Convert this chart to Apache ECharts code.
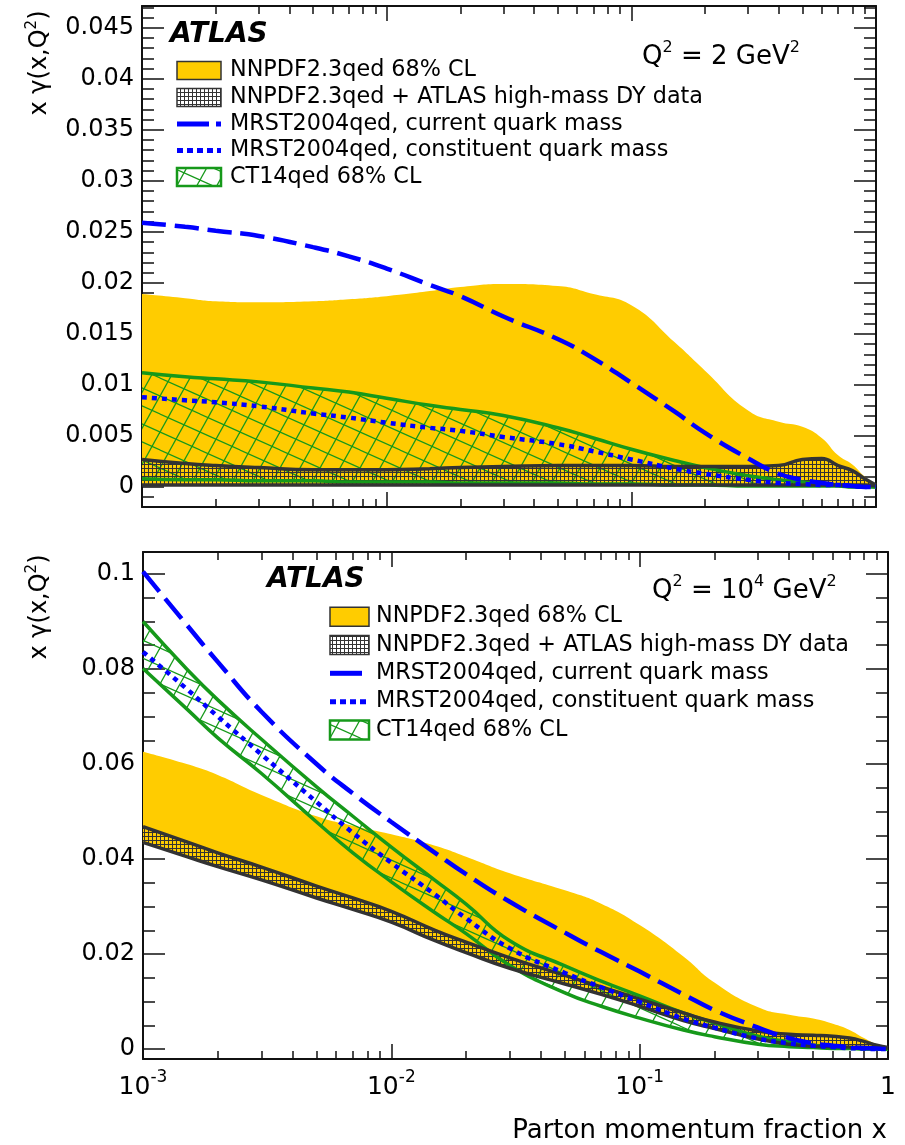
<!DOCTYPE html>
<html>
<head>
    <meta charset="utf-8">
    <title>x gamma(x,Q2)</title>
    <script src="https://cdn.jsdelivr.net/npm/echarts@6/dist/echarts.min.js"></script>
    <style>
        html, body { margin: 0; padding: 0; background: #fff; }
        #chart { width: 905px; height: 1145px; }
    </style>
</head>
<body>
<div id="chart"></div>
<script>
    var xGrid = [0.001, 0.0015, 0.002, 0.003, 0.005, 0.007, 0.01, 0.015, 0.02, 0.03, 0.05, 0.07,
        0.1, 0.15, 0.2, 0.3, 0.4, 0.5, 0.6, 0.7, 0.8, 0.9, 1.0];

    // ---- Q^2 = 2 GeV^2 (top panel)
    var nnpdfUp2 = [0.0189, 0.0185, 0.0182, 0.0181, 0.0182, 0.0184, 0.0187, 0.0192, 0.0196, 0.0199, 0.0197, 0.0189,
        0.0178, 0.0142, 0.0114, 0.0075, 0.0064, 0.0059, 0.0048, 0.0031, 0.0022, 0.0010, 0.0002];
    var nnpdfLow2 = [0.0001, 0.0001, 0.0001, 0.0001, 0.0001, 0.0001, 0.0001, 0.0001, 0.0001, 0.0001, 0.0001, 0.0001,
        0.0001, 0.0001, 0.0001, 0.0001, 0.0001, 0.0001, 0.0001, 0.0001, 0.0001, 0.0001, 0.0001];
    var atlasUp2 = [0.0027, 0.0023, 0.0021, 0.0019, 0.0017, 0.0017, 0.0017, 0.0018, 0.0019, 0.0020, 0.0021, 0.0021,
        0.0021, 0.0020, 0.0020, 0.0020, 0.0021, 0.0027, 0.0028, 0.0021, 0.0016, 0.0008, 0.0002];
    var atlasLow2 = [0.0002, 0.0002, 0.0002, 0.0002, 0.0002, 0.0002, 0.0002, 0.0002, 0.0002, 0.0002, 0.0002, 0.0002,
        0.0002, 0.0002, 0.0002, 0.0002, 0.0002, 0.0002, 0.0002, 0.0002, 0.0002, 0.0002, 0.0001];
    var ct14Up2 = [0.0112, 0.0108, 0.0106, 0.0103, 0.0097, 0.0093, 0.0087, 0.0080, 0.0076, 0.0070, 0.0058, 0.0048,
        0.0037, 0.0026, 0.0019, 0.0011, 0.0007, 0.0005, 0.0003, 0.0002, 0.0001, 0.0001, 0.0];
    var ct14Low2 = [0.0008, 0.0007, 0.0007, 0.0006, 0.0006, 0.0005, 0.0005, 0.0005, 0.0004, 0.0004, 0.0004, 0.0003,
        0.0003, 0.0002, 0.0002, 0.0001, 0.0001, 0.0001, 0.0001, 0.0001, 0.0, 0.0, 0.0];
    var mrstCur2 = [0.0259, 0.0255, 0.0251, 0.0246, 0.0235, 0.0226, 0.0214, 0.0198, 0.0187, 0.0167, 0.0145, 0.0126,
        0.0102, 0.0074, 0.0053, 0.0028, 0.0013, 0.0007, 0.0004, 0.0002, 0.0001, 0.0, 0.0];
    var mrstCon2 = [0.0088, 0.0085, 0.0083, 0.0079, 0.0072, 0.0068, 0.0063, 0.0058, 0.0055, 0.0049, 0.0042, 0.0035,
        0.0027, 0.0018, 0.0013, 0.0007, 0.0004, 0.0003, 0.0002, 0.0002, 0.0001, 0.0, 0.0];

    // ---- Q^2 = 10^4 GeV^2 (bottom panel)
    var nnpdfUp4 = [0.0626, 0.0600, 0.0577, 0.0535, 0.0490, 0.0470, 0.0452, 0.0428, 0.0405, 0.0370, 0.0334, 0.0306,
        0.0261, 0.0195, 0.0140, 0.0088, 0.0072, 0.0064, 0.0053, 0.0040, 0.0023, 0.0010, 0.0002];
    var nnpdfLow4 = [0.0435, 0.0405, 0.0384, 0.0356, 0.0318, 0.0294, 0.0267, 0.0228, 0.0203, 0.0170, 0.0137, 0.0115,
        0.0090, 0.0060, 0.0043, 0.0021, 0.0010, 0.0006, 0.0005, 0.0004, 0.0003, 0.0003, 0.0002];
    var atlasUp4 = [0.0468, 0.0436, 0.0413, 0.0383, 0.0343, 0.0318, 0.0290, 0.0250, 0.0225, 0.0192, 0.0155, 0.0131,
        0.0105, 0.0076, 0.0057, 0.0038, 0.0031, 0.0029, 0.0027, 0.0023, 0.0016, 0.0008, 0.0003];
    var atlasLow4 = [0.0435, 0.0405, 0.0384, 0.0356, 0.0318, 0.0294, 0.0267, 0.0228, 0.0203, 0.0170, 0.0137, 0.0115,
        0.0090, 0.0060, 0.0043, 0.0021, 0.0010, 0.0006, 0.0005, 0.0004, 0.0003, 0.0003, 0.0002];
    var ct14Up4 = [0.0900, 0.0800, 0.0735, 0.0652, 0.0552, 0.0490, 0.0425, 0.0355, 0.0305, 0.0228, 0.0175, 0.0143,
        0.0112, 0.0076, 0.0055, 0.0027, 0.0015, 0.0008, 0.0004, 0.0002, 0.0001, 0.0, 0.0];
    var ct14Low4 = [0.0801, 0.0716, 0.0655, 0.0580, 0.0478, 0.0413, 0.0352, 0.0287, 0.0243, 0.0176, 0.0118, 0.0090,
        0.0065, 0.0040, 0.0026, 0.0010, 0.0005, 0.0003, 0.0001, 0.0001, 0.0, 0.0, 0.0];
    var mrstCur4 = [0.1005, 0.0893, 0.0815, 0.0710, 0.0600, 0.0538, 0.0478, 0.0413, 0.0368, 0.0310, 0.0245, 0.0204,
        0.0163, 0.0115, 0.0082, 0.0045, 0.0023, 0.0012, 0.0007, 0.0004, 0.0002, 0.0001, 0.0];
    var mrstCon4 = [0.0836, 0.0758, 0.0700, 0.0620, 0.0520, 0.0455, 0.0392, 0.0325, 0.0275, 0.0212, 0.0160, 0.0130,
        0.0099, 0.0064, 0.0045, 0.0022, 0.0012, 0.0007, 0.0004, 0.0002, 0.0001, 0.0, 0.0];

    // ticks and labels
    var xTickVals = [0.001, 0.01, 0.1, 1];
    var xTickText = ['10{s|-3}', '10{s|-2}', '10{s|-1}', '1'];
    var yMajor2 = [0, 0.005, 0.01, 0.015, 0.02, 0.025, 0.03, 0.035, 0.04, 0.045];
    var yText2 = ['0', '0.005', '0.01', '0.015', '0.02', '0.025', '0.03', '0.035', '0.04', '0.045'];
    var yMajor4 = [0, 0.02, 0.04, 0.06, 0.08, 0.1];
    var yText4 = ['0', '0.02', '0.04', '0.06', '0.08', '0.1'];

    var legendText = ['NNPDF2.3qed 68% CL', 'NNPDF2.3qed + ATLAS high-mass DY data',
        'MRST2004qed, current quark mass', 'MRST2004qed, constituent quark mass', 'CT14qed 68% CL'];

    var F = 'DejaVu Sans';
    var FRAME = '#111111';
    var YELLOW = '#ffcc00';
    var GREEN = '#16991a';
    var DARK = '#333333';
    var BLUE = '#0000ff';
    var SMOOTH = 0.5;

    // fill patterns (ROOT style hatches)
    function meshPattern(bg) {
        var c = document.createElement('canvas');
        c.width = 4; c.height = 4;
        var g = c.getContext('2d');
        if (bg) { g.fillStyle = bg; g.fillRect(0, 0, 4, 4); }
        g.fillStyle = DARK;
        g.fillRect(0, 0, 4, 1);
        g.fillRect(0, 0, 1, 4);
        return {image: c, repeat: 'repeat'};
    }

    function hatchPattern(bg) {
        var w = 40, h = 36;
        var c = document.createElement('canvas');
        c.width = w; c.height = h;
        var g = c.getContext('2d');
        if (bg) { g.fillStyle = bg; g.fillRect(0, 0, w, h); }
        g.strokeStyle = GREEN;
        g.lineWidth = 1.3;
        for (var ox = -w; ox <= w; ox += w) {
            for (var oy = -h; oy <= h; oy += h) {
                [0, 20].forEach(function (x0) {
                    g.beginPath(); g.moveTo(x0 + ox, h + oy); g.lineTo(x0 + 20 + ox, oy); g.stroke();
                });
                [0, 18].forEach(function (y0) {
                    g.beginPath(); g.moveTo(ox, y0 + oy); g.lineTo(w + ox, y0 + 18 + oy); g.stroke();
                });
            }
        }
        return {image: c, repeat: 'repeat'};
    }

    var meshFill = meshPattern(null);
    var meshIcon = meshPattern('#ffffff');
    var hatchFill = hatchPattern(null);
    var hatchIcon = hatchPattern('#ffffff');

    function pts(ys) {
        return xGrid.map(function (x, i) { return [x, ys[i]]; });
    }

    // value first so that the stack is done on y (x axis is a log value axis)
    function ptsYX(ys) {
        return xGrid.map(function (x, i) { return [ys[i], x]; });
    }

    function bandSeries(p, id, low, up, fill) {
        var d = up.map(function (v, i) { return Math.max(0, Math.round((v - low[i]) * 1e6) / 1e6); });
        var common = {
            type: 'line', xAxisIndex: p * 2, yAxisIndex: p * 4, stack: id + p, stackStrategy: 'all',
            encode: {x: 1, y: 0}, smooth: SMOOTH, symbol: 'none', silent: true, lineStyle: {opacity: 0},
            emphasis: {disabled: true}
        };
        return [
            Object.assign({}, common, {name: id + '-low', data: ptsYX(low)}),
            Object.assign({}, common, {name: id, data: ptsYX(d), areaStyle: {color: fill, opacity: 1}})
        ];
    }

    function curve(p, ys, color, width, type) {
        return {
            type: 'line', xAxisIndex: p * 2, yAxisIndex: p * 4, data: pts(ys), smooth: SMOOTH,
            symbol: 'none', silent: true, emphasis: {disabled: true},
            lineStyle: {color: color, width: width, type: type, cap: 'butt'}
        };
    }

    function panelSeries(p, d) {
        return [].concat(
            bandSeries(p, 'nnpdf', d.nnLow, d.nnUp, YELLOW),
            bandSeries(p, 'ct14', d.ctLow, d.ctUp, hatchFill),
            [curve(p, d.ctUp, GREEN, 3.5, 'solid'), curve(p, d.ctLow, GREEN, 3.5, 'solid')],
            bandSeries(p, 'atlas', d.atLow, d.atUp, meshFill),
            [curve(p, d.atUp, DARK, 3.5, 'solid'), curve(p, d.atLow, DARK, 3.5, 'solid')],
            [curve(p, d.cur, BLUE, 4.5, d.dash), curve(p, d.con, BLUE, 4.5, [5, 5])]
        );
    }

    function xAxes(gi, showLabels) {
        var common = {
            type: 'log', logBase: 10, min: 0.001, max: 1, gridIndex: gi, splitLine: {show: false},
            axisLine: {show: true, onZero: false, lineStyle: {color: FRAME, width: 2}},
            axisTick: {show: true, inside: true, length: 15, lineStyle: {color: FRAME, width: 1.5}},
            minorTick: {show: true, splitNumber: 9, length: 8, lineStyle: {color: FRAME, width: 1.5}}
        };
        var bottom = Object.assign({}, common, {
            position: 'bottom',
            axisLabel: showLabels ? {
                show: true, margin: 10, color: '#000', fontFamily: F, fontSize: 25, lineHeight: 37,
                formatter: function (v) {
                    for (var i = 0; i < xTickVals.length; i++) {
                        if (Math.abs(Math.log10(v) - Math.log10(xTickVals[i])) < 0.01) return xTickText[i];
                    }
                    return '';
                },
                rich: {s: {fontFamily: F, fontSize: 17, lineHeight: 17, padding: [0, 0, 20, 0], color: '#000'}}
            } : {show: false}
        });
        var top = Object.assign({}, common, {position: 'top', axisLabel: {show: false}});
        return [bottom, top];
    }

    function minorsOf(majors, step, lo, hi) {
        var out = [];
        var n = Math.round((hi - lo) / step);
        for (var i = 0; i <= n; i++) {
            var v = Math.round((lo + i * step) * 1e6) / 1e6;
            var isMajor = majors.some(function (m) { return Math.abs(m - v) < 1e-9; });
            if (!isMajor) out.push(v);
        }
        return out;
    }

    function yAxes(gi, min, max, majors, texts, minors) {
        var base = {type: 'value', gridIndex: gi, min: min, max: max, splitLine: {show: false}};
        var line = {show: true, onZero: false, lineStyle: {color: FRAME, width: 2}};
        var tickStyle = {color: FRAME, width: 1.5};
        var label = {
            show: true, customValues: majors, margin: 8, color: '#000', fontFamily: F, fontSize: 24,
            formatter: function (v) {
                for (var i = 0; i < majors.length; i++) {
                    if (Math.abs(v - majors[i]) < 1e-7) return texts[i];
                }
                return '';
            }
        };
        return [
            Object.assign({}, base, {position: 'left', axisLine: line, axisLabel: label,
                axisTick: {show: true, inside: true, length: 22, customValues: majors, lineStyle: tickStyle}}),
            Object.assign({}, base, {position: 'left', axisLine: {show: false}, axisLabel: {show: false},
                axisTick: {show: true, inside: true, length: 12, customValues: minors, lineStyle: tickStyle}}),
            Object.assign({}, base, {position: 'right', axisLine: line, axisLabel: {show: false},
                axisTick: {show: true, inside: true, length: 22, customValues: majors, lineStyle: tickStyle}}),
            Object.assign({}, base, {position: 'right', axisLine: {show: false}, axisLabel: {show: false},
                axisTick: {show: true, inside: true, length: 12, customValues: minors, lineStyle: tickStyle}})
        ];
    }

    function txt(x, y, text, size, extra) {
        var style = Object.assign({
            text: text, fill: '#000', fontFamily: F, fontSize: size, align: 'left', verticalAlign: 'middle',
            textAlign: 'left', textVerticalAlign: 'middle'
        }, extra || {});
        return {type: 'text', x: x, y: y, z: 100, silent: true, style: style};
    }

    var supRich = function (size, pad) {
        return {s: {fontFamily: F, fontSize: size, lineHeight: size, padding: [0, 0, pad, 0], fill: '#000'}};
    };

    function legend(ix, w, h, rows, tx) {
        var out = [];
        var half = h / 2;
        out.push({type: 'rect', z: 100, silent: true, shape: {x: ix, y: rows[0] - half, width: w, height: h},
            style: {fill: YELLOW, stroke: DARK, lineWidth: 1.5}});
        out.push({type: 'rect', z: 100, silent: true, shape: {x: ix, y: rows[1] - half, width: w, height: h},
            style: {fill: meshIcon, stroke: DARK, lineWidth: 1.5}});
        out.push({type: 'line', z: 100, silent: true, shape: {x1: ix, y1: rows[2], x2: ix + w, y2: rows[2]},
            style: {stroke: BLUE, lineWidth: 5, lineDash: [32, 7]}});
        out.push({type: 'line', z: 100, silent: true, shape: {x1: ix, y1: rows[3], x2: ix + w, y2: rows[3]},
            style: {stroke: BLUE, lineWidth: 5, lineDash: [6, 4]}});
        out.push({type: 'rect', z: 100, silent: true, shape: {x: ix, y: rows[4] - half, width: w, height: h},
            style: {fill: hatchIcon, stroke: GREEN, lineWidth: 2.5}});
        for (var i = 0; i < legendText.length; i++) {
            out.push(txt(tx, rows[i], legendText[i], 22.3));
        }
        return out;
    }

    var series = [].concat(
        panelSeries(0, {
            nnLow: nnpdfLow2, nnUp: nnpdfUp2, ctLow: ct14Low2, ctUp: ct14Up2,
            atLow: atlasLow2, atUp: atlasUp2, cur: mrstCur2, con: mrstCon2, dash: [24, 9]
        }),
        panelSeries(1, {
            nnLow: nnpdfLow4, nnUp: nnpdfUp4, ctLow: ct14Low4, ctUp: ct14Up4,
            atLow: atlasLow4, atUp: atlasUp4, cur: mrstCur4, con: mrstCon4, dash: [26, 9]
        })
    );

    var graphics = [].concat(
        [
            txt(170, 34.5, 'ATLAS', 28, {fontWeight: 'bold', fontStyle: 'italic'}),
            txt(642, 57, 'Q{s|2} = 2 GeV{s|2}', 26, {lineHeight: 40, rich: supRich(16, 18)}),
            txt(40, 63, 'x γ(x,Q{s|2})', 24, {lineHeight: 36, rich: supRich(15, 16),
                align: 'center', textAlign: 'center'}),
            txt(267, 580, 'ATLAS', 28, {fontWeight: 'bold', fontStyle: 'italic'}),
            txt(652, 591, 'Q{s|2} = 10{s|4} GeV{s|2}', 26, {lineHeight: 40, rich: supRich(16, 18)}),
            txt(40, 607, 'x γ(x,Q{s|2})', 24, {lineHeight: 36, rich: supRich(15, 16),
                align: 'center', textAlign: 'center'}),
            txt(887, 1131, 'Parton momentum fraction x', 26, {align: 'right', textAlign: 'right'})
        ],
        legend(177, 44, 18, [70.5, 97.5, 124, 150.5, 177], 230),
        legend(330, 39, 19, [616.7, 645, 673.3, 701.7, 730], 376)
    );
    // rotate the two y titles
    graphics[2].rotation = Math.PI / 2;
    graphics[5].rotation = Math.PI / 2;

    var myChart = echarts.init(document.getElementById('chart'));
    myChart.setOption({
        backgroundColor: '#ffffff',
        animation: false,
        grid: [
            {left: 142, top: 6, width: 734, height: 501, containLabel: false, outerBoundsMode: 'none'},
            {left: 143, top: 552, width: 745, height: 507, containLabel: false, outerBoundsMode: 'none'}
        ],
        xAxis: [].concat(xAxes(0, false), xAxes(1, true)),
        yAxis: [].concat(
            yAxes(0, -0.00196, 0.04713, yMajor2, yText2, minorsOf(yMajor2, 0.001, -0.001, 0.047)),
            yAxes(1, -0.0021, 0.10463, yMajor4, yText4, minorsOf(yMajor4, 0.005, 0, 0.1))
        ),
        series: series,
        graphic: graphics
    });
</script>
</body>
</html>
